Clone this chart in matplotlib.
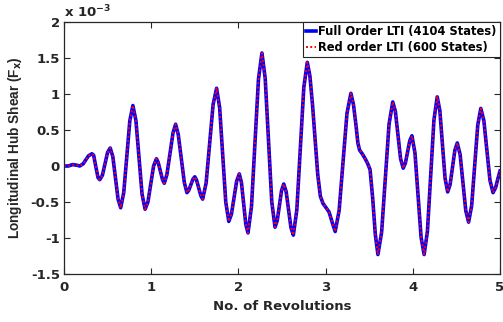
import matplotlib
matplotlib.use('Agg')
import matplotlib.pyplot as plt
import numpy as np

plt.rcParams['font.family'] = ['DejaVu Sans']
plt.rcParams['font.weight'] = 'bold'
plt.rcParams['axes.unicode_minus'] = False
plt.rcParams['mathtext.default'] = 'bf'

# revolutions vs longitudinal hub shear (units of 1e-3)
revs = [0.00, 0.05, 0.10, 0.15, 0.18, 0.22, 0.25, 0.28, 0.32,
        0.34, 0.365, 0.39, 0.41, 0.44, 0.47, 0.50, 0.53,
        0.56, 0.59, 0.62, 0.65, 0.685, 0.72, 0.755, 0.79,
        0.825, 0.86, 0.895, 0.93, 0.9625, 0.995, 1.0275, 1.06,
        1.08, 1.105, 1.13, 1.15, 1.18, 1.215, 1.25, 1.28,
        1.31, 1.345, 1.38, 1.41, 1.43, 1.455, 1.48, 1.50,
        1.52, 1.545, 1.57, 1.59, 1.63, 1.67, 1.71, 1.75,
        1.785, 1.82, 1.855, 1.89, 1.92, 1.95, 1.98, 2.01,
        2.035, 2.06, 2.085, 2.11, 2.15, 2.19, 2.23, 2.27,
        2.3075, 2.345, 2.3825, 2.42, 2.445, 2.47, 2.495, 2.52,
        2.5475, 2.575, 2.6025, 2.63, 2.67, 2.71, 2.75, 2.79,
        2.82, 2.85, 2.88, 2.91, 2.94, 2.97, 3.00, 3.04, 3.08, 3.11,
        3.155, 3.20, 3.245, 3.29,
        3.32, 3.35, 3.37, 3.39, 3.42, 3.45, 3.48, 3.51, 3.54, 3.57, 3.60,
        3.6425, 3.685, 3.7275, 3.77, 3.80, 3.83, 3.86, 3.89,
        3.915, 3.94, 3.965, 3.99, 4.025, 4.06, 4.095, 4.13,
        4.1675, 4.205, 4.2425, 4.28, 4.31, 4.34, 4.37, 4.40,
        4.4275, 4.455, 4.4825, 4.51, 4.5425, 4.575, 4.6075, 4.64,
        4.675, 4.71, 4.745, 4.78, 4.815, 4.85, 4.885, 4.92,
        4.95, 4.975, 5.00]
shear_full = [0.00, 0.00, 0.02, 0.01, 0.00, 0.03, 0.085, 0.14, 0.17,
              0.15, -0.01, -0.16, -0.19, -0.13, 0.03, 0.19, 0.25,
              0.13, -0.165, -0.46, -0.58, -0.37, 0.13, 0.63, 0.84,
              0.63, 0.12, -0.39, -0.60, -0.50, -0.25, 0.0, 0.10,
              0.05, -0.07, -0.19, -0.24, -0.12, 0.17, 0.46, 0.58,
              0.44, 0.105, -0.23, -0.37, -0.34, -0.26, -0.18, -0.15,
              -0.195, -0.305, -0.415, -0.46, -0.235, 0.31, 0.855, 1.08,
              0.81, 0.155, -0.50, -0.77, -0.67, -0.44, -0.21, -0.11,
              -0.23, -0.52, -0.81, -0.93, -0.565, 0.32, 1.205, 1.57,
              1.215, 0.36, -0.495, -0.85, -0.76, -0.55, -0.34, -0.25,
              -0.355, -0.605, -0.855, -0.96, -0.61, 0.24, 1.09, 1.44,
              1.25, 0.85, 0.36, -0.12, -0.42, -0.52, -0.57, -0.64, -0.80, -0.91,
              -0.62, 0.055, 0.73, 1.01,
              0.85, 0.55, 0.32, 0.22, 0.17, 0.11, 0.04, -0.05, -0.45, -0.95, -1.23,
              -0.92, -0.17, 0.58, 0.89, 0.76, 0.43, 0.10, -0.03,
              0.04, 0.195, 0.35, 0.42, 0.18, -0.405, -0.99, -1.23,
              -0.91, -0.135, 0.64, 0.96, 0.77, 0.30, -0.17, -0.36,
              -0.26, -0.02, 0.22, 0.32, 0.16, -0.23, -0.62, -0.78,
              -0.55, 0.01, 0.57, 0.80, 0.63, 0.215, -0.20, -0.37,
              -0.30, -0.18, -0.07]
# reduced model lies on top of the full one
shear_red = list(shear_full)

labels = ['Full Order LTI (4104 States)', 'Red order LTI (600 States)']
xticks = [0, 1, 2, 3, 4, 5]
yticks = [-1.5, -1, -0.5, 0, 0.5, 1, 1.5, 2]
ytick_labels = ['-1.5', '-1', '-0.5', '0', '0.5', '1', '1.5', '2']

fig = plt.figure(figsize=(5.03, 3.22), dpi=100)
ax = fig.add_axes([64/503, 48/322, 436/503, 252/322])

ax.plot(revs, shear_full, color='#0000ff', lw=2.6, label=labels[0])
ax.plot(revs, shear_red, color='#ff0000', lw=1.4, ls=(0, (1, 1.2)), label=labels[1])

ax.set_xlim(0, 5)
ax.set_ylim(-1.5, 2)
ax.set_xticks(xticks)
ax.set_yticks(yticks)
ax.set_yticklabels(ytick_labels)
ax.tick_params(direction='in', top=True, right=True, length=4, width=0.8,
               labelsize=9.5, colors='#262626')
ax.tick_params(axis='x', pad=5)
ax.tick_params(axis='y', pad=3)
for s in ax.spines.values():
    s.set_color('#262626')
    s.set_linewidth(0.9)

ax.set_xlabel('No. of Revolutions', fontsize=9.5, fontweight='bold', color='#262626', labelpad=4)
ax.set_ylabel('Longitudinal Hub Shear (F$_x$)', family='Liberation Sans', fontsize=9.8,
              fontweight='bold', color='#262626', labelpad=5)
ax.text(0.0, 1.005, 'x 10$^{-3}$', transform=ax.transAxes, fontsize=9.5,
        fontweight='bold', color='#262626', ha='left', va='bottom')

leg = ax.legend(loc='upper right', borderaxespad=0, fancybox=False, framealpha=1,
                edgecolor='#262626', prop={'size': 8.3, 'weight': 'bold'},
                handlelength=0.9, handletextpad=0.15, borderpad=0.3, labelspacing=0.2)
leg.get_frame().set_linewidth(0.8)

fig.savefig('out.png', dpi=100)
